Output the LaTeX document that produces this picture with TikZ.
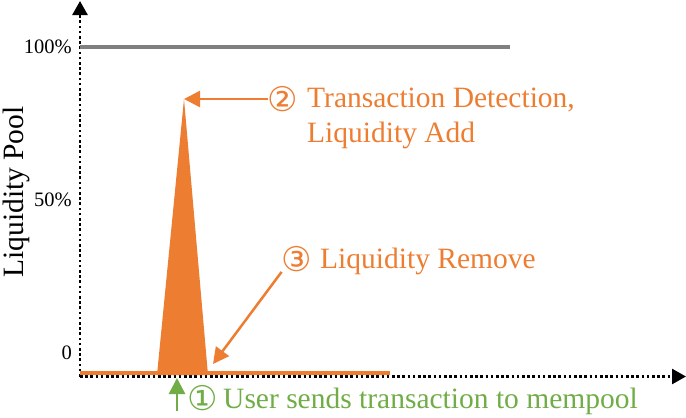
\documentclass[tikz,border=0pt]{standalone}
\usepackage{fontspec}
\setmainfont{Liberation Serif}
\newfontfamily\circfont{DejaVu Sans}
\usetikzlibrary{positioning, arrows.meta}
\definecolor{poolorange}{HTML}{ED7D31}
\definecolor{poolgreen}{HTML}{70AD47}
\definecolor{poolgray}{HTML}{808080}
\newcommand{\circnum}[1]{{\circfont\fontsize{34}{34}\selectfont #1}}

\begin{document}
\begin{tikzpicture}[x=1pt, y=-1pt, font=\fontsize{29.5}{36}\selectfont,
    axis/.style={line width=2.6pt, dash pattern=on 2.6pt off 2.6pt,
      -{Triangle[length=14pt, width=15pt]}},
    ticklbl/.style={font=\fontsize{20.5}{20.5}\selectfont, anchor=east, inner sep=0pt},
    numlbl/.style={inner sep=0pt},
    txtlbl/.style={inner sep=0pt, anchor=base west},
    arr/.style={line width=2.5pt, -{Triangle[length=16pt, width=16pt]}}]
  \useasboundingbox (0,0) rectangle (686,418);
  % axes
  \coordinate (origin) at (80,376.5);
  \coordinate (ytop) at (80,1);
  \coordinate (xend) at (686,376.5);
  \draw[axis] (origin) -- (ytop);
  \draw[axis] (origin) -- (xend);
  \node[rotate=90, anchor=north, inner sep=0pt] (ylbl) at (3,192) {Liquidity Pool};
  \node[ticklbl] (t100) at (72,47) {100\%};
  \node[ticklbl] (t50) at (72,200) {50\%};
  \node[ticklbl] (t0) at (72,353) {0};
  \draw[poolgray, line width=4pt] (80,47) -- (510,47);
  % pool level
  \coordinate (apex) at (184,99);
  \draw[poolorange, line width=3.5pt] (80,373) -- (390,373);
  \fill[poolorange] (157,375) -- (apex) -- (208,375) -- cycle;
  % steps
  \node[numlbl, poolorange] (n2) at (283,99) {\circnum{②}};
  \node[txtlbl, poolorange] (add) at (307,107) {Transaction Detection,};
  \node[txtlbl, poolorange] (add2) at (307,142) {Liquidity Add};
  \draw[arr, poolorange] (n2.west) -- (apex);
  \node[numlbl, poolorange] (n3) at (297,259) {\circnum{③}};
  \node[txtlbl, poolorange] (rem) at (320,268) {Liquidity Remove};
  \coordinate (remtip) at (213,364);
  \draw[arr, poolorange] (n3.south west) -- (remtip);
  \node[numlbl, poolgreen] (n1) at (203,398) {\circnum{①}};
  \node[txtlbl, poolgreen] (send) at (223,408) {User sends transaction to mempool};
  \coordinate (sendtip) at (177,378);
  \draw[arr, poolgreen] (sendtip |- n1.south) -- (sendtip);
\end{tikzpicture}
\end{document}
